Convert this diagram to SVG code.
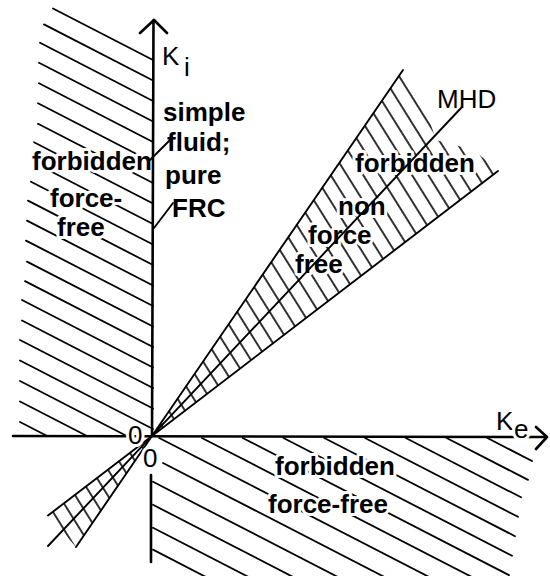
<svg xmlns="http://www.w3.org/2000/svg" width="550" height="576" viewBox="0 0 550 576">
<style>
.h{stroke:#000;stroke-width:1.8;fill:none;stroke-linecap:round}
.ax{stroke:#000;stroke-width:2.6;fill:none;stroke-linecap:round;stroke-linejoin:round}
.edge{stroke:#000;stroke-width:1.9;fill:none;stroke-linecap:round}
.t{font-family:"Liberation Sans",Arial,sans-serif;font-weight:bold;font-size:26px;fill:#000;stroke:#fff;stroke-width:6;paint-order:stroke;stroke-linejoin:round}
.r{font-weight:normal}
</style>
<defs>
<pattern id="wh" patternUnits="userSpaceOnUse" width="10" height="13.8" patternTransform="translate(152,436) rotate(58) translate(0,-6.9)">
<line x1="-1" y1="6.9" x2="11" y2="6.9" stroke="#000" stroke-width="1.6"/>
</pattern>
</defs>
<rect width="550" height="576" fill="#fff"/>
<g id="hatching">
<path id="left-hatch" class="h" d="M53 8.5L153 60M44 24.4L153 80.5M40 42.8L153 101M39 62.8L153 121.5M39 83.3L153 142M38 103.3L153 162.5M38 123.8L153 183M34 142.2L153 203.5M38 164.8L153 224M31 181.7L153 244.5M28 200.6L153 265M27 220.6L153 285.5M26 240.6L153 306M27 261.6L153 326.5M25 281.1L153 347M22 300L153 367.5M22 320.5L153 388M20 340L153 408.5M20 360.5L153 429M20 381L126.8 436M20 401.5L87 436M20 422L47.2 436"/>
<path id="bottom-hatch" class="h" d="M487.4 438L532 461M446.6 438L528 479.9M405.8 438L521 497.3M365 438L518 516.8M324.3 438L515 536.2M283.5 438L512 555.7M242.7 438L509 575.1M201.9 438L477.7 580M159.2 438L435 580M163 463L390.3 580M153 481.8L343.7 580M153 504.8L299 580M153 527.8L254.4 580M153 549.6L211.7 580"/>
<path id="wedge-hatch-upper" fill="url(#wh)" d="M152 436L403 70L424 104L436 140L474 150L498 171Z"/>
<path id="wedge-hatch-lower" fill="url(#wh)" d="M152 436L48 515.5L76 547Z"/>
</g>
<g id="label-left-forbidden">
<text class="t" x="32" y="170">forbidden</text>
<text class="t" font-size="25"><tspan x="50" y="207">force-</tspan><tspan x="57" y="236">free</tspan></text>
</g>
<g id="label-axis">
<text class="t"><tspan x="163" y="121">simple</tspan><tspan x="167" y="151">fluid;</tspan><tspan x="165" y="184">pure</tspan><tspan x="172" y="217">FRC</tspan></text>
</g>
<g id="label-wedge">
<text class="t" x="355" y="172">forbidden</text>
<text class="t" font-size="25"><tspan x="338" y="215">non</tspan><tspan x="308" y="244">force</tspan><tspan x="295" y="273">free</tspan></text>
</g>
<g id="label-mhd">
<text class="t r" x="437" y="108" font-size="28">MHD</text>
</g>
<g id="label-bottom-forbidden">
<text class="t" x="275" y="475">forbidden</text>
<text class="t" x="268" y="513">force-free</text>
</g>
<g id="connectors">
<path id="wedge-upper-edges" class="edge" d="M152 436L403 70M152 436L498 171"/>
<path id="mhd-line" class="edge" d="M48 546L462 107"/>
<path id="wedge-lower-edges" class="edge" d="M152 436L48 515.5M152 436L76 547"/>
<path id="axis-ki" class="ax" d="M153.5 20L152 436M140 33L154 20L167 33"/>
<path id="axis-ke" class="ax" d="M13 436L547 437M536 427L547 437L536 449"/>
<path id="axis-ki-lower" class="ax" d="M151 475L151 562"/>
<path id="leaders" class="edge" d="M172 138L150 160M173 203L154 228"/>
</g>
<g id="axis-labels">
<text class="t r" font-size="32" stroke-width="0"><tspan x="162" y="65">K</tspan><tspan x="184" y="76">i</tspan></text>
<text class="t r" font-size="27" stroke-width="0"><tspan x="496" y="430">K</tspan><tspan x="514" y="438">e</tspan></text>
<text class="t r" x="128" y="444" font-size="24" stroke-width="5">0</text>
<text class="t r" x="143" y="467" font-size="24" stroke-width="5">0</text>
</g>
</svg>
